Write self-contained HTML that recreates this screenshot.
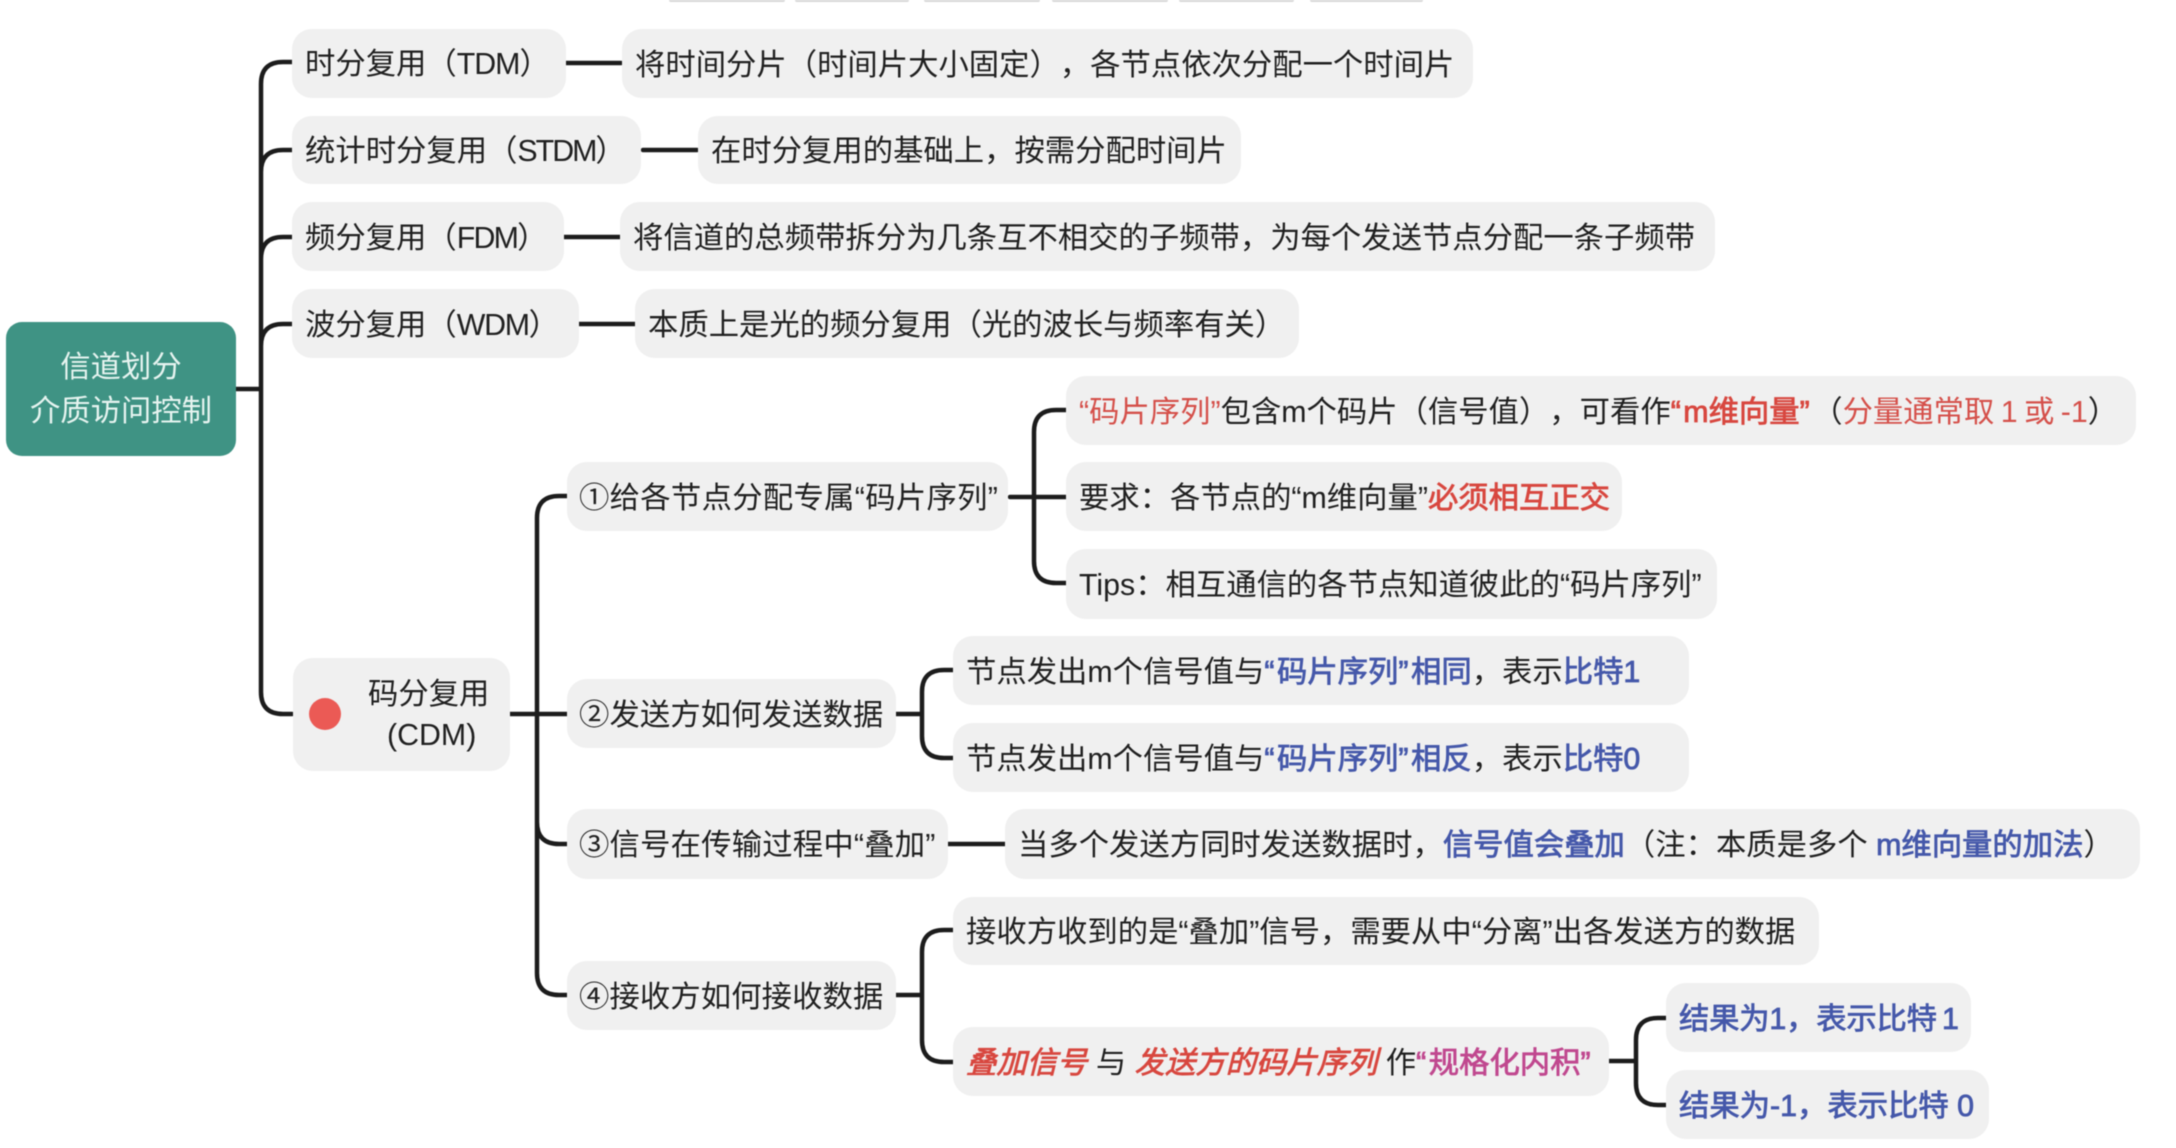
<!DOCTYPE html>
<html lang="zh"><head><meta charset="utf-8"><style>
html,body{margin:0;padding:0;background:#fff}
#c{position:relative;width:2176px;height:1148px;overflow:hidden;background:#fff;filter:blur(.5px);font-family:"Liberation Sans","Noto Sans CJK SC",sans-serif;font-size:30.35px;color:#202020;text-spacing-trim:space-all}
.n{position:absolute;background:#f0f0f0;border-radius:20px;box-sizing:border-box;padding-left:13px;padding-bottom:4px;white-space:nowrap;display:flex;align-items:center}
.r{color:#d5504a}.rb{color:#d8473f;-webkit-text-stroke:.8px currentColor}.b{color:#4558aa;-webkit-text-stroke:.8px currentColor}.p{color:#c0488f;-webkit-text-stroke:.8px currentColor}.i{font-style:italic}
.q{letter-spacing:2.5px}
.t{position:absolute;height:2px;top:0;background:#d8d8d8;border-radius:0 0 4px 4px}
svg{position:absolute;left:0;top:0}
path{fill:none;stroke:#1c1c1c;stroke-width:4.5;stroke-linecap:round}
</style></head><body><div id="c">
<div class="t" style="left:669px;width:116px"></div><div class="t" style="left:795px;width:114px"></div><div class="t" style="left:924px;width:116px"></div><div class="t" style="left:1052px;width:116px"></div><div class="t" style="left:1179px;width:115px"></div><div class="t" style="left:1310px;width:113px"></div>
<svg width="2176" height="1148">
<path d="M236 389H261M261 84Q261 62 283 62H292M261 172Q261 150 283 150H292M261 259Q261 237 283 237H292M261 346Q261 324 283 324H292M261 84V692Q261 714 283 714H292"/>
<path d="M566 63H621M643 150H697M564 237H620M579 324H635"/>
<path d="M510 714H567M537 518Q537 496 559 496H567M537 518V973Q537 995 559 995H567M537 822Q537 844 559 844H567M948 844H1005"/>
<path d="M1010 497H1066M1034 432Q1034 410 1056 410H1066M1034 432V561Q1034 583 1056 583H1066"/>
<path d="M896 714H922M922 692Q922 670 944 670H953M922 692V736Q922 758 944 758H953"/>
<path d="M896 995H922M922 952Q922 930 944 930H953M922 952V1040Q922 1062 944 1062H953"/>
<path d="M1609 1061H1636M1636 1040Q1636 1018 1658 1018H1666M1636 1040V1083Q1636 1105 1658 1105H1666"/>
</svg>
<div class="n" style="left:6px;top:322px;width:230px;height:134px;background:#3f9384;padding:2px 0 0;justify-content:center;text-align:center;color:#e6f4f0;line-height:44px;border-radius:16px">信道划分<br>介质访问控制</div>
<div class="n" style="left:292px;top:29px;width:274px;height:69px;padding-bottom:5px"><span>时分复用（<span style="letter-spacing:-1px">TDM</span>）</span></div>
<div class="n" style="left:622px;top:29px;width:851px;height:69px">将时间分片（时间片大小固定），各节点依次分配一个时间片</div>
<div class="n" style="left:292px;top:116px;width:349px;height:68px"><span>统计时分复用（<span style="letter-spacing:-2px">STDM</span>）</span></div>
<div class="n" style="left:698px;top:116px;width:543px;height:68px">在时分复用的基础上，按需分配时间片</div>
<div class="n" style="left:292px;top:202px;width:272px;height:69px"><span>频分复用（<span style="letter-spacing:-1.8px">FDM</span>）</span></div>
<div class="n" style="left:620px;top:202px;width:1095px;height:69px">将信道的总频带拆分为几条互不相交的子频带，为每个发送节点分配一条子频带</div>
<div class="n" style="left:292px;top:289px;width:287px;height:69px"><span>波分复用（<span style="letter-spacing:-1.3px">WDM</span>）</span></div>
<div class="n" style="left:635px;top:289px;width:664px;height:69px">本质上是光的频分复用（光的波长与频率有关）</div>
<div class="n" style="left:293px;top:658px;width:217px;height:113px;padding:0"><span style="position:absolute;left:16px;top:40px;width:32px;height:32px;border-radius:50%;background:#eb5a55"></span><span style="position:absolute;left:75px;top:16px;line-height:42px">码分复用</span><span style="position:absolute;left:94px;top:57px;line-height:42px">(CDM)</span></div>
<div class="n" style="left:567px;top:462px;width:441px;height:69px;padding-left:12px;letter-spacing:.3px">①给各节点分配专属“码片序列”</div>
<div class="n" style="left:567px;top:679px;width:329px;height:69px;padding-left:12px;letter-spacing:.1px">②发送方如何发送数据</div>
<div class="n" style="left:567px;top:809px;width:381px;height:70px;padding-left:12px;letter-spacing:.2px">③信号在传输过程中“叠加”</div>
<div class="n" style="left:567px;top:961px;width:329px;height:69px;padding-left:12px;letter-spacing:.1px">④接收方如何接收数据</div>
<div class="n" style="left:1066px;top:376px;width:1070px;height:69px"><span><span class="r">“码片序列”</span>包含m个码片（信号值），可看作<span class="rb"><span class="q">“</span>m维向量<span class="q">”</span></span>（<span class="r" style="word-spacing:-2px">分量通常取 1 或 -1</span>）</span></div>
<div class="n" style="left:1066px;top:462px;width:556px;height:69px"><span>要求：各节点的“m维向量”<span class="rb">必须相互正交</span></span></div>
<div class="n" style="left:1066px;top:549px;width:651px;height:70px">Tips：相互通信的各节点知道彼此的“码片序列”</div>
<div class="n" style="left:953px;top:636px;width:736px;height:69px"><span>节点发出m个信号值与<span class="b"><span class="q">“</span>码片序列<span class="q">”</span>相同</span>，表示<span class="b">比特1</span></span></div>
<div class="n" style="left:953px;top:723px;width:736px;height:69px"><span>节点发出m个信号值与<span class="b"><span class="q">“</span>码片序列<span class="q">”</span>相反</span>，表示<span class="b">比特0</span></span></div>
<div class="n" style="left:1005px;top:809px;width:1135px;height:70px"><span>当多个发送方同时发送数据时，<span class="b">信号值会叠加</span>（注：本质是多个 <span class="b">m维向量的加法</span>）</span></div>
<div class="n" style="left:953px;top:897px;width:866px;height:68px">接收方收到的是“叠加”信号，需要从中“分离”出各发送方的数据</div>
<div class="n" style="left:953px;top:1027px;width:656px;height:69px"><span><span class="rb i">叠加信号</span> 与 <span class="rb i">发送方的码片序列</span> 作<span class="p"><span class="q">“</span>规格化内积<span class="q">”</span></span></span></div>
<div class="n" style="left:1666px;top:983px;width:305px;height:69px"><span class="b" style="letter-spacing:-.2px;word-spacing:-3px">结果为1，表示比特 1</span></div>
<div class="n" style="left:1666px;top:1070px;width:323px;height:69px"><span class="b">结果为-1，表示比特 0</span></div>
</div></body></html>
